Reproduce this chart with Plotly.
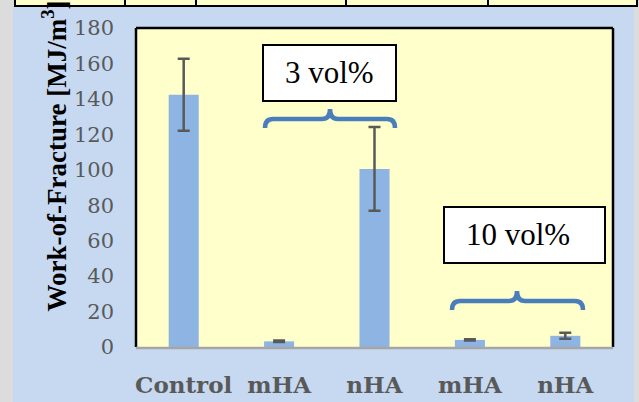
import plotly.graph_objects as go

# ---- data ----
labels = ["Control", "mHA", "nHA", "mHA", "nHA"]
values = [142.3, 3.2, 100.5, 4.0, 6.3]
errors = [20.3, 0.4, 23.6, 0.4, 1.7]
y_ticks = [0, 20, 40, 60, 80, 100, 120, 140, 160, 180]
group_labels = ["3 vol%", "10 vol%"]

W, H = 639, 402
L, R, T, B = 136, 613, 28, 347  # plot area in pixels


def X(px):
    return (px - L) / (R - L)


def Y(py):
    return (B - py) / (B - T)


xpos = list(range(len(labels)))

fig = go.Figure()
fig.add_trace(go.Bar(
    x=xpos, y=values, width=0.315,
    marker=dict(color="#8eb4e3", line=dict(width=0)),
    error_y=dict(type="data", array=errors, visible=True,
                 color="#595959", thickness=2.5, width=6),
))

shapes = []
# outer light-blue chart area
shapes.append(dict(type="rect", xref="paper", yref="paper", x0=X(13), x1=X(634), y0=Y(7), y1=Y(402),
                   fillcolor="#c6d9f1", line=dict(width=0), layer="below"))
# plot area fill
shapes.append(dict(type="rect", xref="paper", yref="paper", x0=0, x1=1, y0=0, y1=1,
                   fillcolor="#ffffcc", line=dict(width=0), layer="below"))
# table row at top
shapes.append(dict(type="rect", xref="paper", yref="paper", x0=X(15), x1=X(637), y0=Y(-2), y1=Y(6),
                   fillcolor="#ffffcc", line=dict(width=0), layer="below"))
shapes.append(dict(type="line", xref="paper", yref="paper", x0=X(14), x1=X(638), y0=Y(6), y1=Y(6),
                   line=dict(color="black", width=2)))
for cx in [15, 125, 196, 346, 488, 637]:
    shapes.append(dict(type="line", xref="paper", yref="paper", x0=X(cx), x1=X(cx), y0=Y(-2), y1=Y(6),
                       line=dict(color="black", width=2)))
# plot area border
shapes.append(dict(type="line", xref="paper", yref="paper", x0=0, x1=1, y0=1, y1=1,
                   line=dict(color="black", width=2.5)))
shapes.append(dict(type="line", xref="paper", yref="paper", x0=0, x1=0, y0=0, y1=1,
                   line=dict(color="black", width=2.5)))
shapes.append(dict(type="line", xref="paper", yref="paper", x0=1, x1=1, y0=0, y1=1,
                   line=dict(color="black", width=2.5)))
shapes.append(dict(type="line", xref="paper", yref="paper", x0=0, x1=1, y0=Y(348), y1=Y(348),
                   line=dict(color="#a6a6a6", width=2.5)))

# label boxes
shapes.append(dict(type="rect", xref="paper", yref="paper", x0=X(263), x1=X(396), y0=Y(45), y1=Y(101),
                   fillcolor="white", line=dict(color="black", width=2)))
shapes.append(dict(type="rect", xref="paper", yref="paper", x0=X(444), x1=X(605), y0=Y(207), y1=Y(263),
                   fillcolor="white", line=dict(color="black", width=2)))


def brace(x0, x1, xm, yl, yt, yb, r=8):
    return (f"M {X(x0)},{Y(yb)} Q {X(x0)},{Y(yl)} {X(x0 + r)},{Y(yl)} "
            f"L {X(xm - r)},{Y(yl)} Q {X(xm)},{Y(yl)} {X(xm)},{Y(yt)} "
            f"Q {X(xm)},{Y(yl)} {X(xm + r)},{Y(yl)} "
            f"L {X(x1 - r)},{Y(yl)} Q {X(x1)},{Y(yl)} {X(x1)},{Y(yb)}")


shapes.append(dict(type="path", xref="paper", yref="paper", path=brace(265, 395, 330, 119, 109, 128),
                   line=dict(color="#4a7ebb", width=4.5)))
shapes.append(dict(type="path", xref="paper", yref="paper", path=brace(452, 583, 517, 301, 291, 310),
                   line=dict(color="#4a7ebb", width=4.5)))

annotations = [
    dict(xref="paper", yref="paper", x=X(329), y=Y(73), text=group_labels[0], showarrow=False,
         xanchor="center", yanchor="middle",
         font=dict(family="Liberation Serif", size=31, color="black")),
    dict(xref="paper", yref="paper", x=X(518), y=Y(235), text=group_labels[1], showarrow=False,
         xanchor="center", yanchor="middle",
         font=dict(family="Liberation Serif", size=31, color="black")),
    dict(xref="paper", yref="paper", x=X(54), y=Y(314), text="Work-of-Fracture [MJ/m<sup>3</sup>]",
         showarrow=False, textangle=-90, xanchor="center", yanchor="bottom",
         font=dict(family="Liberation Serif", size=27, color="black", weight="bold")),
]

fig.update_layout(
    width=W, height=H,
    margin=dict(l=L, r=W - R, t=T, b=H - B, pad=0, autoexpand=False),
    paper_bgcolor="#dcdcdc",
    plot_bgcolor="#ffffcc",
    showlegend=False,
    shapes=shapes,
    annotations=annotations,
    xaxis=dict(range=[-0.5, len(labels) - 0.5], tickvals=xpos, ticktext=labels,
               showgrid=False, zeroline=False, showline=False, ticks="", automargin=False,
               ticklabelstandoff=22,
               tickfont=dict(family="DejaVu Serif", size=23, color="#595959", weight="bold")),
    yaxis=dict(range=[0, 180], tickvals=y_ticks, showgrid=False, zeroline=False, showline=False,
               ticks="", ticklabelstandoff=21, automargin=False,
               tickfont=dict(family="DejaVu Serif", size=21, color="#595959")),
)

fig.write_html("out.html")
